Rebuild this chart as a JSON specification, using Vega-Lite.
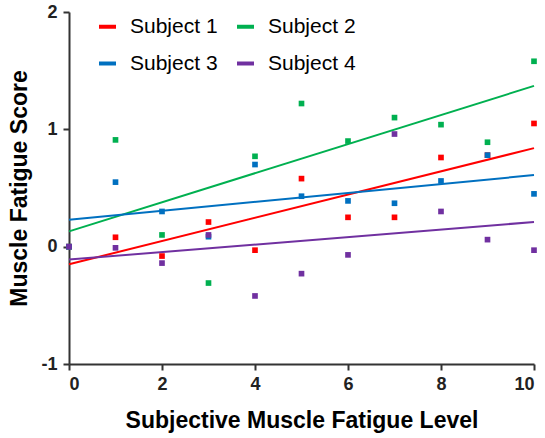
{
  "$schema": "https://vega.github.io/schema/vega-lite/v6.json",
  "width": 465,
  "height": 352,
  "autosize": {"type": "none"},
  "padding": {"left": 69, "top": 12, "right": 11, "bottom": 74},
  "background": "white",
  "config": {
    "view": {"stroke": null},
    "font": "Liberation Sans",
    "axis": {
      "grid": false,
      "domainColor": "#333333",
      "domainWidth": 2,
      "tickColor": "#333333",
      "tickWidth": 2,
      "tickSize": 6,
      "labelFont": "Liberation Sans",
      "labelFontWeight": "bold",
      "labelFontSize": 18,
      "labelColor": "#222222",
      "labelPadding": 5,
      "titleFont": "Liberation Sans",
      "titleFontWeight": "bold",
      "titleFontSize": 23,
      "titleColor": "#000000"
    }
  },
  "datasets": {
    "points": [
      {"subject": "Subject 1", "level": 0, "score": 0},
      {"subject": "Subject 2", "level": 0, "score": 0},
      {"subject": "Subject 3", "level": 0, "score": 0},
      {"subject": "Subject 4", "level": 0, "score": 0},
      {"subject": "Subject 1", "level": 1, "score": 0.08},
      {"subject": "Subject 1", "level": 2, "score": -0.08},
      {"subject": "Subject 1", "level": 3, "score": 0.21},
      {"subject": "Subject 1", "level": 4, "score": -0.03},
      {"subject": "Subject 1", "level": 5, "score": 0.58},
      {"subject": "Subject 1", "level": 6, "score": 0.25},
      {"subject": "Subject 1", "level": 7, "score": 0.25},
      {"subject": "Subject 1", "level": 8, "score": 0.76},
      {"subject": "Subject 1", "level": 9, "score": 0.78},
      {"subject": "Subject 1", "level": 10, "score": 1.05},
      {"subject": "Subject 2", "level": 1, "score": 0.91},
      {"subject": "Subject 2", "level": 2, "score": 0.1},
      {"subject": "Subject 2", "level": 3, "score": -0.31},
      {"subject": "Subject 2", "level": 4, "score": 0.77},
      {"subject": "Subject 2", "level": 5, "score": 1.22},
      {"subject": "Subject 2", "level": 6, "score": 0.9},
      {"subject": "Subject 2", "level": 7, "score": 1.1},
      {"subject": "Subject 2", "level": 8, "score": 1.04},
      {"subject": "Subject 2", "level": 9, "score": 0.89},
      {"subject": "Subject 2", "level": 10, "score": 1.58},
      {"subject": "Subject 3", "level": 1, "score": 0.55},
      {"subject": "Subject 3", "level": 2, "score": 0.3},
      {"subject": "Subject 3", "level": 3, "score": 0.085},
      {"subject": "Subject 3", "level": 4, "score": 0.7},
      {"subject": "Subject 3", "level": 5, "score": 0.43},
      {"subject": "Subject 3", "level": 6, "score": 0.39},
      {"subject": "Subject 3", "level": 7, "score": 0.37},
      {"subject": "Subject 3", "level": 8, "score": 0.56},
      {"subject": "Subject 3", "level": 9, "score": 0.78},
      {"subject": "Subject 3", "level": 10, "score": 0.45},
      {"subject": "Subject 4", "level": 1, "score": -0.01},
      {"subject": "Subject 4", "level": 2, "score": -0.14},
      {"subject": "Subject 4", "level": 3, "score": 0.1},
      {"subject": "Subject 4", "level": 4, "score": -0.42},
      {"subject": "Subject 4", "level": 5, "score": -0.23},
      {"subject": "Subject 4", "level": 6, "score": -0.07},
      {"subject": "Subject 4", "level": 7, "score": 0.96},
      {"subject": "Subject 4", "level": 8, "score": 0.3},
      {"subject": "Subject 4", "level": 9, "score": 0.06},
      {"subject": "Subject 4", "level": 10, "score": -0.03}
    ],
    "lines": [
      {"subject": "Subject 1", "level": 0, "score": -0.15},
      {"subject": "Subject 1", "level": 10, "score": 0.84},
      {"subject": "Subject 2", "level": 0, "score": 0.13},
      {"subject": "Subject 2", "level": 10, "score": 1.37},
      {"subject": "Subject 3", "level": 0, "score": 0.23},
      {"subject": "Subject 3", "level": 10, "score": 0.61},
      {"subject": "Subject 4", "level": 0, "score": -0.11},
      {"subject": "Subject 4", "level": 10, "score": 0.21}
    ]
  },
  "layer": [
    {
      "data": {"name": "lines"},
      "mark": {"type": "line", "strokeWidth": 2},
      "encoding": {
        "x": {
          "field": "level", "type": "quantitative",
          "scale": {"domain": [0, 10], "nice": false},
          "axis": {"values": [0, 2, 4, 6, 8, 10], "format": "d", "title": "Subjective Muscle Fatigue Level", "titlePadding": 16}
        },
        "y": {
          "field": "score", "type": "quantitative",
          "scale": {"domain": [-1, 2], "nice": false},
          "axis": {"values": [-1, 0, 1, 2], "labelExpr": "'' + datum.value", "labelPadding": 6, "title": "Muscle Fatigue Score", "titlePadding": 9}
        },
        "color": {
          "field": "subject", "type": "nominal",
          "scale": {
            "domain": ["Subject 1", "Subject 2", "Subject 3", "Subject 4"],
            "range": ["#FF0000", "#00B050", "#0070C0", "#7030A0"]
          },
          "legend": {
            "title": null,
            "orient": "none",
            "legendX": 28,
            "legendY": 4,
            "direction": "horizontal",
            "columns": 2,
            "symbolType": "stroke",
            "symbolSize": 289,
            "symbolStrokeWidth": 4,
            "labelFont": "Liberation Sans",
            "labelFontSize": 21,
            "labelColor": "#000000",
            "labelOffset": 12,
            "columnPadding": 11,
            "rowPadding": 15,
            "padding": 0
          }
        }
      }
    },
    {
      "data": {"name": "points"},
      "mark": {"type": "square", "size": 32, "opacity": 1},
      "encoding": {
        "x": {"field": "level", "type": "quantitative"},
        "y": {"field": "score", "type": "quantitative"},
        "color": {"field": "subject", "type": "nominal", "legend": null}
      }
    }
  ]
}
